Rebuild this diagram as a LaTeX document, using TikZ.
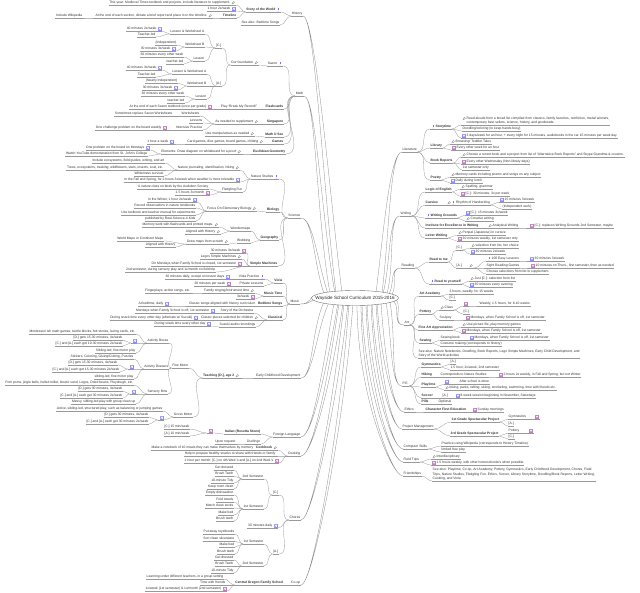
\documentclass[tikz,border=0pt]{standalone}
\usepackage{fontspec}
\setmainfont{Liberation Sans}
\usetikzlibrary{shapes.geometric,calc}
\pgfdeclarelayer{bg}
\pgfsetlayers{bg,main}
\newcommand\fs{\fontsize{3.35}{4.4}\selectfont}
\tikzset{
 cn/.style={draw=black!40, line width=0.3bp},
 br/.style={draw=black!45, fill=white, line width=0.3bp},
 ndb/.style={font=\fs, text=black!80, inner xsep=0.5bp, inner ysep=0.35bp,
   append after command={(\tikzlastnode.south west) edge[cn] (\tikzlastnode.south east)}},
 nd/.style={ndb, text height=2.4bp, text depth=0.7bp},
 icmag/.pic={\draw[line width=0.3bp, black!45] (0.5,-0.5) circle[radius=1.0];
   \draw[line width=0.45bp, black!45] (-0.2,0.2) -- (-1.2,1.2);},
 iccal/.pic={\draw[line width=0.2bp, blue!45, fill=blue!6] (-1.5,-1.5) rectangle (1.5,1.5);
   \fill[blue!35] (-1.5,-1.5) rectangle (1.5,-0.9);
   \fill[blue!30] (-0.8,-0.3) rectangle (0.8,0.9);},
 icpur/.pic={\draw[line width=0.2bp, violet!50, fill=violet!10] (-1.5,-1.5) rectangle (1.5,1.5);
   \fill[violet!45] (-1.5,-1.5) rectangle (1.5,-0.9);
   \fill[violet!35] (-0.8,-0.3) rectangle (0.8,0.9);},
 icexc/.pic={\fill[blue!55] (-0.3,-1.8) rectangle (0.3,0.5);
   \fill[blue!55] (0,1.2) circle[radius=0.4];}
}
\newcommand\NdL[4]{\node[nd,anchor=south east] (#1) at (#2,{#3+2}) {#4};}
\newcommand\NdLi[5]{\node[nd,anchor=south east] (#1) at (#2,{#3+2}) {#4\hspace*{5bp}};\pic at ($(#1.south east)+(-2.9,-2.1)$) {ic#5};}
\newcommand\NdR[4]{\node[nd,anchor=south west] (#1) at (#2,{#3+2}) {#4};}
\newcommand\NdRi[5]{\node[nd,anchor=south west] (#1) at (#2,{#3+2}) {\hspace*{5bp}#4};\pic at ($(#1.south west)+(2.9,-2.1)$) {ic#5};}
\newcommand\kidsL[2]{\foreach \kk in {#2}{\draw[cn] (\kk.south east) to[out=0,in=180] (#1.south west);}}
\newcommand\kidsR[2]{\foreach \kk in {#2}{\draw[cn] (#1.south east) to[out=0,in=180] (\kk.south west);}}
\newcommand\brL[5]{\draw[br] ($(root.center)+(#1)$) .. controls +(#4:#5) and +(0:12) .. (#3.south east) .. controls +(0:12) and +(#4:#5) .. ($(root.center)+(#2)$) -- cycle;}
\newcommand\brR[5]{\draw[br] ($(root.center)+(#1)$) .. controls +(#4:#5) and +(180:12) .. (#3.south west) .. controls +(180:12) and +(#4:#5) .. ($(root.center)+(#2)$) -- cycle;}
\begin{document}
\begin{tikzpicture}[x=1bp,y=-1bp]
\useasboundingbox (0,0) rectangle (640,593);
\node[font=\fontsize{4.6}{5}\selectfont, text=black!85, inner sep=0] (root) at (355,298) {Wayside School Curriculum 2015-2016};

% ---------------- History
\NdL{HIS}{303}{14}{History}
\NdLi{SOW}{281}{10}{\textbf{Story of the World}}{exc}
\NdLi{SOW1}{236}{3}{This year: Medieval Times textbook and projects, include literature to supplement.}{mag}
\NdLi{SOW2}{236}{9}{1 hour 2x/week}{cal}
\NdL{TL}{237}{16}{\textbf{Timeline}}
\NdLi{TL1}{213}{16}{At the end of each section, dictate a brief report and place it on the timeline.}{mag}
\NdL{TL11}{83}{16}{Include Wikipedia}
\NdL{HSA}{280}{23}{See also: Bedtime Songs}
\kidsL{SOW}{SOW1,SOW2,TL}
\kidsL{TL}{TL1}
\kidsL{TL1}{TL11}
\kidsL{HIS}{SOW,HSA}

% ---------------- Math
\NdL{MATH}{304}{94}{Math}
\NdLi{SAX}{283}{64}{Saxon}{exc}
\NdLi{OF}{259}{63}{Our foundation}{mag}
\NdL{MC}{222}{46}{[C.]}
\NdL{MA}{222}{84}{[A.]}
\NdL{MC1}{205}{32}{Lesson \& Worksheet A}
\NdLi{MC11}{162}{29}{40 minutes 2x/week}{cal}
\NdL{MC12}{156}{35}{Teacher-led}
\NdL{MC2}{205}{45}{Worksheet B}
\NdL{MC21}{177}{43}{(Independent)}
\NdLi{MC22}{176}{49}{30 minutes 3x/week}{cal}
\NdL{MC3}{205}{59}{Lesson}
\NdL{MC31}{184}{55}{30 minutes every other week}
\NdL{MC32}{184}{62}{teacher-led}
\NdL{MA1}{207}{72}{Lesson \& Worksheet A}
\NdLi{MA11}{162}{68}{40 minutes 3x/week}{cal}
\NdL{MA12}{156}{75}{Teacher-led}
\NdL{MA2}{207}{84}{Worksheet B}
\NdL{MA21}{178}{81}{(Nearly Independent)}
\NdLi{MA22}{178}{88}{30 minutes 3x/week}{cal}
\NdL{MA3}{207}{97}{Lesson}
\NdL{MA31}{185}{94}{30 minutes every other week}
\NdL{MA32}{185}{101}{teacher-led}
\NdL{FC}{284}{107}{\textbf{Flashcards}}
\NdL{FC1}{258}{107}{Play ``Break My Record!''}
\NdLi{FC11}{212}{107}{At the end of each Saxon textbook (once per grade)}{pur}
\NdL{SG}{284}{122}{\textbf{Singapore}}
\NdLi{SG1}{259}{122}{As needed to supplement}{mag}
\NdL{SG11}{200}{114}{Worksheets}
\NdL{SG12}{203}{121}{Lessons}
\NdL{SG13}{203}{128}{Intensive Practice}
\NdL{SG111}{173}{114}{Sometimes replace Saxon Worksheets}
\NdLi{SG131}{167}{128}{One challenge problem on the board weekly}{pur}
\NdL{MUS}{284}{135}{\textbf{Math U See}}
\NdLi{MUS1}{255}{134}{Use manipulatives as needed}{mag}
\NdL{GM}{284}{142}{\textbf{Games}}
\NdLi{GM1}{264}{142}{Card games, dice games, board games, chitting}{mag}
\NdLi{GM11}{174}{142}{1 hour a week}{cal}
\NdL{EG}{286}{152}{\textbf{Euclidean Geometry}}
\NdLi{EG1}{242}{152}{Elements: Draw diagram on whiteboard for a proof}{mag}
\NdLi{EG11}{150}{148}{One problem on the board on Mondays}{cal}
\NdL{EG12}{148}{154}{Watch YouTube demonstration from St. John's College}
\kidsL{MC1}{MC11,MC12}\kidsL{MC2}{MC21,MC22}\kidsL{MC3}{MC31,MC32}
\kidsL{MA1}{MA11,MA12}\kidsL{MA2}{MA21,MA22}\kidsL{MA3}{MA31,MA32}
\kidsL{MC}{MC1,MC2,MC3}\kidsL{MA}{MA1,MA2,MA3}
\kidsL{OF}{MC,MA}\kidsL{SAX}{OF}
\kidsL{FC1}{FC11}\kidsL{FC}{FC1}
\kidsL{SG11}{SG111}\kidsL{SG13}{SG131}\kidsL{SG1}{SG11,SG12,SG13}\kidsL{SG}{SG1}
\kidsL{MUS}{MUS1}
\kidsL{GM1}{GM11}\kidsL{GM}{GM1}
\kidsL{EG1}{EG11,EG12}\kidsL{EG}{EG1}
\kidsL{MATH}{SAX,FC,SG,MUS,GM,EG}

% ---------------- Science
\NdL{SCI}{301}{216}{Science}
\NdLi{NS}{279}{177}{Nature Studies}{exc}
\NdLi{NS1}{240}{168}{Nature journaling, identification, hiking}{mag}
\NdL{NS11}{165}{161}{Include ecosystems, field guides, writing, and art}
\NdL{NS12}{164}{168}{Trees, ecosystems, tracking, wildflowers, stars, insects, scat, etc.}
\NdL{NS13}{164}{174}{Wilderness survival}
\NdLi{NS2}{240}{180}{In the Fall and Spring, for 2 hours 3x/week when weather is more tolerable}{cal}
\NdL{FF}{243}{190}{Fledgling Fun}
\NdL{FF1}{209}{187}{A nature class on birds by the Audubon Society}
\NdLi{FF2}{210}{193}{1.5 hours 3x/month}{pur}
\NdL{BIO}{280}{210}{\textbf{Biology}}
\NdLi{BIO1}{257}{209}{Focus On Elementary Biology}{mag}
\NdLi{BIO11}{197}{200}{In the Winter, 1 hour 2x/week}{cal}
\NdL{BIO12}{196}{206}{Record observations in nature notebooks}
\NdL{BIO13}{196}{213}{Use textbook and teacher manual for experiments}
\NdL{BIO14}{196}{219}{published by Real-Science-4-Kids}
\NdL{GEO}{279}{238}{\textbf{Geography}}
\NdL{WM}{251}{229}{Wondermaps}
\NdLi{WM1}{219}{225}{Memory work with flashcards and printed maps.}{mag}
\NdLi{WM2}{221}{232}{Aligned with History}{mag}
\NdL{BL}{251}{241}{Blobbing}
\NdLi{BL1}{229}{242}{Draw maps from scratch}{mag}
\NdL{BL11}{164}{239}{World Maps or Continent Maps}
\NdL{BL12}{176}{245}{Aligned with History}
\NdL{SM}{278}{264}{\textbf{Simple Machines}}
\NdLi{SM1}{246}{251}{30 minutes 3x/week}{pur}
\NdLi{SM2}{242}{257}{Legos Simple Machines}{mag}
\NdLi{SM3}{242}{264}{On Mondays when Family School is closed, 1st semester}{pur}
\NdL{SM4}{216}{270}{2nd semester, during sensory play and 1x/month on field trip}
\kidsL{NS1}{NS11,NS12,NS13}\kidsL{FF}{FF1,FF2}\kidsL{NS}{NS1,NS2,FF}
\kidsL{BIO1}{BIO11,BIO12,BIO13,BIO14}\kidsL{BIO}{BIO1}
\kidsL{WM}{WM1,WM2}\kidsL{BL1}{BL11,BL12}\kidsL{BL}{BL1}\kidsL{GEO}{WM,BL}
\kidsL{SM}{SM1,SM2,SM3,SM4}
\kidsL{SCI}{NS,BIO,GEO,SM}

% ---------------- Music
\NdL{MU}{300}{302}{Music}
\NdL{VI}{283}{281}{\textbf{Viola}}
\NdLi{VP}{265}{277}{Viola Practice}{exc}
\NdLi{VP1}{230}{277}{30 minutes daily, except on lesson days}{cal}
\NdL{PL}{264}{284}{Private Lessons}
\NdLi{PL1}{231}{284}{30 minutes per week}{pur}
\NdL{MT}{283}{294}{\textbf{Music Time}}
\NdLi{MT1}{255}{291}{Family singing/instrument time}{mag}
\NdL{MT11}{191}{291}{Fingerplays, action songs, etc.}
\NdLi{MT2}{255}{297}{3x/week}{pur}
\NdL{BS}{283}{304}{\textbf{Bedtime Songs}}
\NdL{BS1}{256}{304}{Classic songs aligned with history curriculum}
\NdLi{BS11}{169}{304}{At bedtime, daily}{cal}
\NdL{CL}{283}{318}{\textbf{Classical}}
\NdL{CL1}{254}{311}{Story of the Orchestra}
\NdLi{CL11}{215}{311}{Mondays when Family School is off, 1st semester}{cal}
\NdLi{CL2}{259}{318}{Classic pieces selected for children}{mag}
\NdLi{CL21}{198}{318}{During snack time every other day (alternate w/ Suzuki)}{cal}
\NdL{CL3}{256}{325}{Suzuki audio recordings}
\NdLi{CL31}{211}{324}{During snack time every other day}{cal}
\kidsL{VP}{VP1}\kidsL{PL}{PL1}\kidsL{VI}{VP,PL}
\kidsL{MT1}{MT11}\kidsL{MT}{MT1,MT2}
\kidsL{BS1}{BS11}\kidsL{BS}{BS1}
\kidsL{CL1}{CL11}\kidsL{CL2}{CL21}\kidsL{CL3}{CL31}\kidsL{CL}{CL1,CL2,CL3}
\kidsL{MU}{VI,MT,BS,CL}

% ---------------- Early Childhood Development
\NdL{ECD}{301}{376}{Early Childhood Development}
\NdLi{TD}{240}{376}{\textbf{Teaching [D.], age 2}}{mag}
\NdL{FM}{189}{366}{Fine Motor}
\NdL{GR}{193}{415}{Gross Motor}
\NdL{AB}{169}{341}{Activity Boxes}
\NdL{AB1}{136}{332}{Montessori ish math games, tactile blocks, felt stories, lacing cards, etc.}
\NdLi{ABi}{137}{341}{}{cal}
\NdL{ABi1}{123}{338}{[D.] gets 15-30 minutes, 4x/week}
\NdL{ABi2}{123}{344}{[C.] and [A.] each get 10-30 minutes 2x/week}
\NdL{AB4}{136}{351}{Sibling-led, fine motor play}
\NdL{AD}{169}{367}{Activity Drawers}
\NdL{AD1}{134}{357}{Stickers, Coloring, Gluing/Cutting, Puzzles}
\NdLi{ADi}{134}{367}{}{cal}
\NdL{ADi1}{118}{363}{[D.] gets 15-30 minutes, 4x/week}
\NdL{ADi2}{120}{370}{[C.] and [A.] each get 15-30 minutes 2x/week}
\NdL{AD4}{134}{377}{sibling-led, fine motor play}
\NdL{SB}{168}{392}{Sensory Bins}
\NdL{SB1}{134}{383}{Pom poms, jingle bells, hulled millet, kinetic sand, Legos, Dried beans, Playdough, etc.}
\NdLi{SBi}{136}{392}{}{cal}
\NdL{SBi1}{123}{389}{[D.] gets 30 minutes, 4x/week}
\NdL{SBi2}{123}{396}{[C.] and [A.] each get 30 minutes 2x/week}
\NdL{SB4}{136}{402}{Messy, sibling-led play with group clean up}
\NdL{GR1}{163}{409}{Active, sibling-led, structured play, such as balancing or jumping games}
\NdLi{GRi}{164}{418}{}{cal}
\NdL{GRi1}{149}{415}{[D.] gets 30 minutes, 4x/week}
\NdL{GRi2}{149}{422}{[C.] and [A.] each get 30 minutes 2x/week}
\kidsL{ABi}{ABi1,ABi2}\kidsL{AB}{AB1,ABi,AB4}
\kidsL{ADi}{ADi1,ADi2}\kidsL{AD}{AD1,ADi,AD4}
\kidsL{SBi}{SBi1,SBi2}\kidsL{SB}{SB1,SBi,SB4}
\kidsL{GRi}{GRi1,GRi2}\kidsL{GR}{GR1,GRi}
\kidsL{FM}{AB,AD,SB}
\kidsL{TD}{FM,GR}
\kidsL{ECD}{TD}

% ---------------- Foreign Language
\NdL{FL}{301}{435}{Foreign Language}
\NdL{IT}{261}{432}{\textbf{Italian (Rosetta Stone)}}
\NdLi{ITi}{213}{431}{}{pur}
\NdL{ITi1}{190}{427}{[C.] 15 min/week}
\NdL{ITi2}{190}{434}{[A.] 10 min/week}
\NdL{DU}{261}{442}{Duolingo}
\NdL{DU1}{236}{442}{Upon request}
\kidsL{ITi}{ITi1,ITi2}\kidsL{IT}{ITi}\kidsL{DU}{DU1}\kidsL{FL}{IT,DU}

% ---------------- Cooking
\NdL{CK}{301}{454}{Cooking}
\NdLi{CB}{278}{448}{\textbf{Cookbook}}{mag}
\NdL{CB1}{254}{448}{Make a notebook of 10 meals they can make themselves by memory}
\NdL{CK2}{276}{454}{Help to prepare healthy snacks to share with friends or family}
\NdLi{CK3}{279}{461}{1 hour per month: [C.] on 4th Wed.'s and [A.] on 2nd Wed.'s}{pur}
\kidsL{CB}{CB1}\kidsL{CK}{CB,CK2,CK3}

% ---------------- Chores
\NdL{CH}{301}{518}{Chores}
\NdL{CHC}{279}{493}{[C.]}
\NdL{CHA}{279}{552}{[A.]}
\NdLi{CH3}{278}{526}{30 minutes daily}{cal}
\NdL{CHC2}{264}{477}{2nd Semester}
\NdL{C2a}{234}{468}{Get dressed}
\NdL{C2b}{234}{474}{Brush Teeth}
\NdL{C2c}{234}{481}{10-minute Tidy}
\NdL{C2d}{234}{487}{Keep room clean}
\NdL{CHC1}{264}{507}{1st Semester}
\NdL{C1a}{234}{493}{Empty dishwasher}
\NdL{C1b}{234}{500}{Fold towels}
\NdL{C1c}{234}{506}{Match clean socks}
\NdL{C1d}{234}{513}{Make bed}
\NdL{C1e}{234}{519}{Brush teeth}
\NdL{CHA1}{264}{542}{1st Semester}
\NdL{A1a}{235}{532}{Put away toys/books}
\NdL{A1b}{235}{539}{Sort clean silverware}
\NdL{A1c}{235}{545}{Make bed}
\NdL{A1d}{235}{552}{Brush teeth}
\NdL{CHA2}{264}{564}{2nd Semester}
\NdL{A2a}{234}{558}{Get dressed}
\NdL{A2b}{234}{564}{Brush Teeth}
\NdL{A2c}{234}{571}{10-minute Tidy}
\kidsL{CHC2}{C2a,C2b,C2c,C2d}\kidsL{CHC1}{C1a,C1b,C1c,C1d,C1e}
\kidsL{CHA1}{A1a,A1b,A1c,A1d}\kidsL{CHA2}{A2a,A2b,A2c}
\kidsL{CHC}{CHC2,CHC1}\kidsL{CHA}{CHA1,CHA2}\kidsL{CH}{CHC,CH3,CHA}

% ---------------- Co-op
\NdL{CO}{301}{583}{Co-op}
\NdL{COF}{284}{583}{\textbf{Central Oregon Family School}}
\NdL{COF1}{224}{577}{Learning under different teachers, in a group setting}
\NdL{COF2}{226}{583}{Time with friends}
\NdLi{COF3}{227}{589}{1x/week (1st semester) \& 1x/month (2nd semester)}{pur}
\kidsL{COF}{COF1,COF2,COF3}\kidsL{CO}{COF}

% ================= Right side
% ---------------- Literature
\NdR{LIT}{402}{150}{Literature}
\NdRi{ST}{430}{127}{\textbf{Storytime}}{exc}
\node[ndb, align=left, anchor=south west] (ST1) at (461,125) {\hspace*{5bp}Read alouds from a broad list compiled from classics, family favorites, nonfiction, medal winners,\\\hspace*{5bp}contemporary best sellers, science, history, and goodreads.};
\pic at ($(ST1.north west)+(2.9,2.4)$) {icmag};
\NdR{ST2}{462}{129}{Doodling/coloring (to keep hands busy)}
\NdRi{ST3}{461}{136}{3 days/week for an hour, + every night for 15 minutes, audiobooks in the car 15 minutes per week day}{cal}
\NdR{LB}{430}{146}{\textbf{Library}}
\NdRi{LB1}{450}{142}{Browsing/ Toddler Tales}{mag}
\NdRi{LB2}{451}{148}{Every other week for an hour}{pur}
\NdR{BR}{430}{161}{\textbf{Book Reports}}
\NdRi{BR1}{461}{155}{Choose a recent book and a project from list of ``Alternative Book Reports'' and Skype Grandma \& cousins.}{mag}
\NdRi{BR2}{461}{162}{Every other Wednesday (Non-library days)}{pur}
\NdR{BR3}{462}{168}{1st semester only}
\NdR{PO}{430}{178}{\textbf{Poetry}}
\NdRi{PO1}{450}{175}{Memory cards including poems and songs on any subject}{mag}
\NdRi{PO2}{450}{181}{Daily during lunch}{cal}
\kidsR{ST}{ST1,ST2,ST3}\kidsR{LB}{LB1,LB2}\kidsR{BR}{BR1,BR2,BR3}\kidsR{PO}{PO1,PO2}
\kidsR{LIT}{ST,LB,BR,PO}

% ---------------- Writing
\NdR{WR}{400}{214}{Writing}
\NdR{LOE}{425}{190}{\textbf{Logic of English}}
\NdRi{LOE1}{460}{187}{Spelling, grammar}{mag}
\NdRi{LOE2}{460}{194}{[C.]: 30 minutes, 3x per week}{pur}
\NdR{CUR}{425}{203}{\textbf{Cursive}}
\node[nd,anchor=south west] (CUR1) at (446,205) {\hspace*{9.5bp}Rhythm of Handwriting};
\pic at ($(CUR1.south west)+(2.9,-2.1)$) {icmag};
\pic at ($(CUR1.south west)+(7.3,-2.1)$) {icexc};
\NdRi{CUR11}{499}{200}{15 minutes 3x/week}{cal}
\NdR{CUR12}{502}{207}{(Independent work)}
\NdRi{WG}{425}{216}{\textbf{Writing Grounds}}{exc}
\NdRi{WG1}{465}{213}{[C.]: 15 minutes 3x/week}{cal}
\NdRi{WG2}{465}{219}{Creative writing}{mag}
\NdR{IEW}{425}{226}{\textbf{Institute for Excellence in Writing}}
\NdRi{IEW1}{487}{226}{Analytical Writing}{mag}
\NdRi{IEW11}{529}{226}{[C.]: replaces Writing Grounds 2nd Semester, maybe}{pur}
\NdR{LW}{425}{236}{\textbf{Letter Writing}}
\NdRi{LW1}{457}{233}{Penpal (Japanese) in cursive}{mag}
\NdRi{LW2}{457}{239}{30 minutes weekly, 1st semester only}{pur}
\kidsR{LOE}{LOE1,LOE2}\kidsR{CUR1}{CUR11,CUR12}\kidsR{CUR}{CUR1}\kidsR{WG}{WG1,WG2}
\kidsR{IEW1}{IEW11}\kidsR{IEW}{IEW1}\kidsR{LW}{LW1,LW2}
\kidsR{WR}{LOE,CUR,WG,IEW,LW}

% ---------------- Reading
\NdR{RD}{401}{266}{Reading}
\NdR{RTM}{429}{260}{\textbf{Read to me}}
\NdR{RC}{456}{248}{[C.]}
\NdRi{RC1}{470}{246}{selection from list, her choice}{mag}
\NdRi{RC2}{470}{252}{30 minutes 2x/week}{cal}
\NdR{RA}{456}{266}{[A.]}
\NdRi{RAm}{468}{266}{}{mag}
\NdRi{RA1}{486}{259}{100 Easy Lessons}{exc}
\NdRi{RA11}{529}{259}{30 minutes 3x/week}{cal}
\NdR{RA2}{486}{266}{Sight Reading Games}
\NdRi{RA21}{530}{266}{10 minutes on Thurs., first semester, then as needed}{pur}
\NdR{RA3}{486}{272}{Choose selections from list to supplement}
\NdRi{RTY}{429}{282}{\textbf{Read to yourself}}{exc}
\NdRi{RTY1}{469}{279}{Just [C.]: selection from list}{mag}
\NdRi{RTY2}{469}{285}{30 minutes every evening}{cal}
\kidsR{RC}{RC1,RC2}\kidsR{RA1}{RA11}\kidsR{RA2}{RA21}\kidsR{RAm}{RA1,RA2,RA3}\kidsR{RA}{RAm}
\kidsR{RTM}{RC,RA}\kidsR{RTY}{RTY1,RTY2}\kidsR{RD}{RTM,RTY}

% ---------------- Art
\NdR{ART}{404}{323}{Art}
\NdR{AA}{419}{294}{\textbf{Art Academy}}
\NdR{AA1}{449}{292}{3 hours, weekly, for 15 weeks}
\NdR{AA2}{449}{298}{[C.]}
\NdR{PT}{419}{312}{\textbf{Pottery}}
\NdRi{PT1}{439}{308}{Class}{mag}
\NdRi{PT1i}{463}{304}{}{pur}
\NdR{PT1i1}{479}{304}{Weekly, 1.5 hours, for 8-10 weeks}
\NdR{PT12}{463}{312}{[C.]}
\NdR{PT2}{439}{318}{Sculpey}
\NdRi{PT21}{465}{318}{Mondays, when Family School is off, 1st semester}{pur}
\NdR{FAA}{418}{328}{\textbf{Fine Art Appreciation}}
\NdRi{FAA1}{461}{325}{Use picture file, play memory games}{mag}
\NdRi{FAA2}{461}{331}{Mondays, when Family School is off, 1st semester}{pur}
\NdR{SEW}{419}{341}{\textbf{Sewing}}
\NdR{SEW1}{440}{338}{Sewing book}
\NdRi{SEW11}{469}{338}{Mondays, when Family School is off, 1st semester}{cal}
\NdR{SEW2}{440}{344}{Costume making (corresponds to history)}
\node[ndb, align=left, anchor=south west] (ASA) at (418,358) {See also: Nature Notebooks, Doodling, Book Reports, Lego Simple Machines, Early Child Development, and\\Story of the World activities};
\kidsR{AA}{AA1,AA2}\kidsR{PT1i}{PT1i1}\kidsR{PT1}{PT1i,PT12}\kidsR{PT2}{PT21}\kidsR{PT}{PT1,PT2}
\kidsR{FAA}{FAA1,FAA2}\kidsR{SEW1}{SEW11}\kidsR{SEW}{SEW1,SEW2}
\kidsR{ART}{AA,PT,FAA,SEW,ASA}

% ---------------- P.E.
\NdR{PE}{402}{384}{P.E.}
\NdR{GY}{421}{365}{\textbf{Gymnastics}}
\NdR{GY1}{450}{362}{[A.]}
\NdR{GY2}{450}{368}{1.5 hour, 2x/week, 2nd semester}
\NdR{HK}{421}{375}{\textbf{Hiking}}
\NdR{HK1}{440}{375}{Corresponds to Nature Studies}
\NdRi{HK11}{498}{375}{2 hours 2x weekly, in Fall and Spring, but not Winter}{pur}
\NdR{PLY}{421}{385}{\textbf{Playtime}}
\NdRi{PLYi}{444}{382}{}{cal}
\NdR{PLYi1}{459}{382}{After school is done}
\NdRi{PLY2}{444}{388}{biking, parks, rafting, skiing, snorkeling, swimming, time with friends etc.}{mag}
\NdR{SOC}{421}{396}{\textbf{Soccer}}
\NdR{SOC1}{442}{396}{[A.]}
\NdRi{SOC11}{455}{396}{8-week session beginning in November, Saturdays}{cal}
\NdR{PIL}{421}{402}{\textbf{Pills}}
\NdR{PIL1}{438}{402}{Optional}
\kidsR{GY}{GY1,GY2}\kidsR{HK1}{HK11}\kidsR{HK}{HK1}\kidsR{PLYi}{PLYi1}\kidsR{PLY}{PLYi,PLY2}
\kidsR{SOC1}{SOC11}\kidsR{SOC}{SOC1}\kidsR{PIL}{PIL1}
\kidsR{PE}{GY,HK,PLY,SOC,PIL}

% ---------------- Ethics
\NdR{ETH}{404}{410}{Ethics}
\NdR{CFE}{425}{410}{\textbf{Character First Education}}
\NdRi{CFE1}{472}{410}{Sunday mornings}{pur}
\kidsR{CFE}{CFE1}\kidsR{ETH}{CFE}

% ---------------- Project Management
\NdR{PM}{402}{427}{Project Management}
\NdR{G1}{451}{420}{\textbf{1st Grade Spectacular Project}}
\NdR{G11}{508}{417}{Gymnastics}
\NdRi{G11i}{534}{417}{}{pur}
\NdR{G12}{508}{424}{[A.]}
\NdR{G3}{450}{434}{\textbf{3rd Grade Spectacular Project}}
\NdR{G31}{508}{431}{Pottery}
\NdRi{G31i}{528}{431}{}{pur}
\NdR{G32}{508}{437}{[C.]}
\kidsR{G11}{G11i}\kidsR{G1}{G11,G12}\kidsR{G31}{G31i}\kidsR{G3}{G31,G32}\kidsR{PM}{G1,G3}

% ---------------- Computer Skills / Field Trips / Friendships
\NdR{CS}{403}{447}{Computer Skills}
\NdR{CS1}{441}{444}{Practice using Wikipedia (corresponds to History Timeline)}
\NdR{CS2}{441}{450}{limited free play}
\kidsR{CS}{CS1,CS2}
\NdR{FT}{403}{460}{Field Trips}
\NdRi{FT1}{431}{457}{Interdisciplinary}{mag}
\NdRi{FT2}{431}{463}{1.5 hours weekly, with other homeschoolers when possible}{pur}
\kidsR{FT}{FT1,FT2}
\NdR{FR}{403}{474}{Friendships}
\node[ndb, align=left, anchor=south west] (FR1) at (432,481) {See also: Playtime, Co-op, Art Academy, Pottery, Gymnastics, Early Childhood Development, Chores, Field\\Trips, Nature Studies, Fledgling Fun, Ethics, Soccer, Library Storytime, Doodling/Book Reports, Letter Writing,\\Cooking, and Viola};
\kidsR{FR}{FR1}

% ================= main branches
\begin{pgfonlayer}{bg}
\fill[white] (0,0) rectangle (640,593);
\brL{-19,-5}{-13,-5}{HIS}{-97}{110}
\brL{-25,-4.5}{-20,-4.5}{MATH}{-100}{80}
\brL{-31,-4}{-27,-4}{SCI}{-108}{35}
\brL{-40,-2}{-40,2}{MU}{180}{6}
\brL{-31,4}{-26,4.5}{ECD}{115}{30}
\brL{-21,5}{-17,5}{FL}{100}{60}
\brL{-16,5}{-12,5}{CK}{98}{70}
\brL{-11,5}{-7,5}{CH}{96}{90}
\brL{-6,5}{-2,5}{CO}{94}{120}
\brR{21,-5}{27,-5}{LIT}{-83}{60}
\brR{28,-4.5}{32,-4.5}{WR}{-75}{30}
\brR{34,-4}{37,-3.5}{RD}{-60}{12}
\brR{41,1}{39,3.5}{ART}{50}{10}
\brR{31,4.5}{35,4}{PE}{80}{35}
\brR{22,5}{26,5}{ETH}{86}{50}
\brR{17,5}{21,5}{PM}{87}{60}
\brR{12,5}{16,5}{CS}{88}{70}
\brR{7,5}{11,5}{FT}{89}{80}
\brR{2,5}{6,5}{FR}{90}{90}
\draw[draw=black!55, fill=white, line width=0.4bp] (root.center) ellipse [x radius=43.5, y radius=7.5];
\end{pgfonlayer}
\end{tikzpicture}
\end{document}
